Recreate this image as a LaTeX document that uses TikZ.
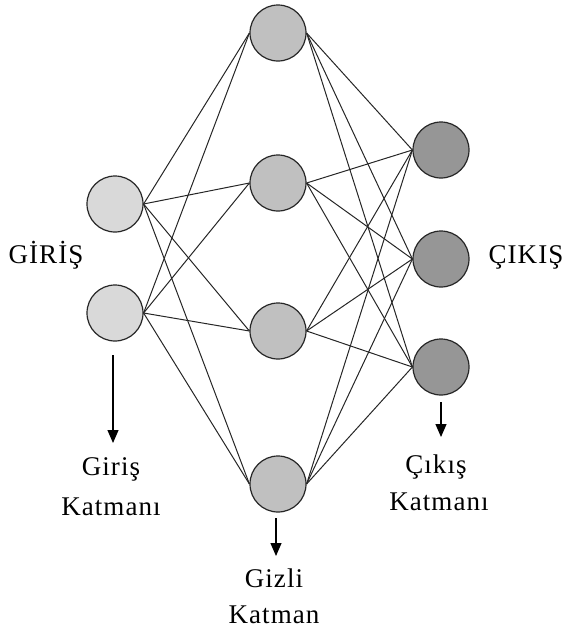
\documentclass[tikz,border=0pt]{standalone}
\usepackage{fontspec}
\setmainfont{Liberation Serif}
\usetikzlibrary{arrows.meta,backgrounds}
\definecolor{infill}{RGB}{217,217,217}
\definecolor{hidfill}{RGB}{192,192,192}
\definecolor{outfill}{RGB}{150,150,150}
\tikzset{
  neuron/.style={circle, draw=black!85, line width=1.2pt, minimum size=56pt, inner sep=0pt},
  inneuron/.style={neuron, fill=infill},
  hidneuron/.style={neuron, fill=hidfill},
  outneuron/.style={neuron, fill=outfill},
  link/.style={draw=black!85, line width=1pt},
  down/.style={draw=black, line width=1.2pt, -{Triangle[width=11pt,length=13pt]}},
  lbl/.style={anchor=base, inner sep=0pt,
    font=\fontsize{27}{30}\selectfont\addfontfeature{LetterSpace=4}}
}
\begin{document}
\begin{tikzpicture}[x=1pt, y=-1pt]
\useasboundingbox (0,0) rectangle (566,633);

% input layer
\node[inneuron] (i1) at (115,204) {};
\node[inneuron] (i2) at (115,313) {};
% hidden layer
\node[hidneuron] (h1) at (278,33) {};
\node[hidneuron] (h2) at (278,183) {};
\node[hidneuron] (h3) at (278,331) {};
\node[hidneuron] (h4) at (278,484) {};
% output layer
\node[outneuron] (o1) at (441,150) {};
\node[outneuron] (o2) at (441,259) {};
\node[outneuron] (o3) at (441,367) {};

% fully connected links, drawn behind the neurons
\begin{scope}[on background layer]
\foreach \a in {i1,i2}
  \foreach \b in {h1,h2,h3,h4}
    \draw[link] (\a.east) -- (\b.west);
\foreach \a in {h1,h2,h3,h4}
  \foreach \b in {o1,o2,o3}
    \draw[link] (\a.east) -- (\b.west);
\end{scope}

% side labels
\node[lbl] (gir) at (46,263) {GİRİŞ};
\node[lbl] (cik) at (526,263) {ÇIKIŞ};

% layer captions with arrows
\coordinate (ia) at (113,355);
\coordinate (ib) at (113,443);
\draw[down] (ia) -- (ib);
\node[lbl] (il1) at (111,475) {Giriş};
\node[lbl] (il2) at (111,515) {Katmanı};

\coordinate (ha) at (276,518);
\coordinate (hb) at (276,556);
\draw[down] (ha) -- (hb);
\node[lbl] (hl1) at (274,587) {Gizli};
\node[lbl] (hl2) at (274,623) {Katman};

\coordinate (oa) at (441,402);
\coordinate (ob) at (441,437);
\draw[down] (oa) -- (ob);
\node[lbl] (ol1) at (436,473) {Çıkış};
\node[lbl] (ol2) at (439,510) {Katmanı};
\end{tikzpicture}
\end{document}
